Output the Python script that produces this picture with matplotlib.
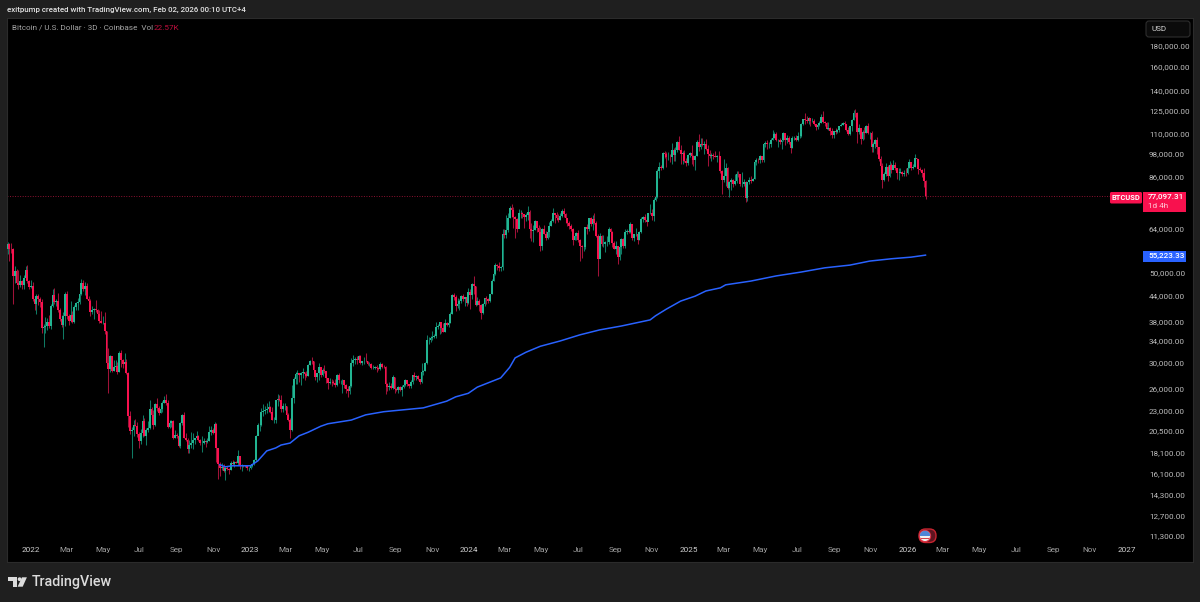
import numpy as np
import pandas as pd
import matplotlib
matplotlib.use("Agg")
import matplotlib.pyplot as plt
from matplotlib.patches import Rectangle, FancyBboxPatch, Circle, Polygon, Wedge
from matplotlib.ticker import NullLocator

FIRST_CANDLE = "2021-11-23"
FIRST_OPEN_K = 57.3
CLOSE_K = [
58.9,57.3,57.2,49.2,50.6,47.2,46.7,47.6,46.7,48.6,
50.8,47.6,46.2,46.4,43.1,41.9,43.9,43.1,42.4,36.5,
36.7,37.1,37.9,36.9,41.5,44.1,42.4,42.6,40.5,38.4,
37.3,39.2,44.4,39.1,38.0,39.4,37.8,41.1,42.2,42.4,
44.3,47.1,45.5,46.4,43.2,42.7,40.1,40.5,40.8,40.5,
39.5,38.1,37.6,37.7,36.0,30.1,29.0,31.3,28.7,29.4,
29.6,28.6,31.8,30.5,29.9,30.2,28.4,22.2,20.4,20.6,
21.1,21.0,20.1,19.3,20.2,21.6,19.9,20.6,20.8,23.2,
22.4,21.2,23.8,23.3,22.6,23.2,23.9,24.4,23.9,20.9,
21.4,21.6,19.6,20.0,19.9,18.8,21.4,22.4,19.7,19.4,
18.5,18.9,19.1,19.4,19.6,19.9,19.4,19.1,19.1,19.3,
19.2,19.3,20.3,20.6,20.2,21.3,18.6,17.0,16.6,16.7,
16.3,16.6,16.5,16.4,17.1,17.0,17.2,17.1,17.8,16.8,
16.9,16.8,16.8,16.6,16.6,16.8,16.95,17.4,19.9,21.1,
21.1,22.7,22.9,23.0,23.1,23.4,22.8,21.8,21.8,24.3,
24.5,24.4,23.2,23.5,23.5,22.4,21.7,20.6,24.7,27.4,
28.2,28.3,28.0,28.4,28.5,28.2,27.9,29.7,30.4,30.3,
28.8,27.8,28.3,29.3,28.1,28.8,28.7,27.6,26.8,27.0,
26.9,26.8,26.5,28.1,27.2,27.2,27.2,26.5,25.9,25.6,
26.3,30.0,30.5,30.7,30.5,31.2,30.0,30.3,30.4,30.3,
29.9,29.9,29.2,29.2,29.3,29.2,29.0,29.8,29.4,29.3,
26.6,26.2,26.4,26.0,27.7,25.9,25.8,26.2,25.8,26.2,
26.5,27.2,26.6,26.3,27.0,28.0,27.8,27.9,27.4,26.9,
28.5,28.7,30.0,34.1,34.1,34.6,34.7,35.0,36.7,37.0,
37.9,36.6,35.8,37.7,37.2,37.7,39.5,44.0,43.7,41.5,
41.9,42.7,43.9,43.0,43.5,42.1,44.9,44.2,47.0,46.4,
41.7,42.7,41.6,39.9,41.8,43.3,43.1,42.6,44.3,47.7,
49.7,52.1,51.8,51.3,51.7,62.4,62.0,63.8,68.3,72.1,
71.4,68.4,67.8,64.0,69.9,70.0,69.7,68.5,69.4,70.6,
63.9,63.4,63.8,66.8,64.5,63.1,58.3,64.0,62.3,60.8,
62.9,65.2,66.9,70.0,69.3,68.3,67.5,68.8,70.8,69.6,
68.2,66.2,65.2,64.1,60.3,61.6,62.7,60.2,58.1,57.7,
57.9,64.7,64.0,68.2,65.8,67.9,66.2,61.4,53.9,61.7,
58.7,58.7,59.5,59.5,64.1,62.9,59.0,57.3,58.0,54.8,
57.7,60.5,58.2,62.9,63.4,63.1,65.9,60.8,62.1,62.2,
60.3,62.8,67.6,68.4,67.4,66.6,69.9,70.2,68.8,75.6,
76.7,88.6,91.1,90.5,98.4,97.7,96.0,96.4,95.9,99.9,
97.4,100.0,104.5,100.2,97.7,98.6,94.1,92.8,97.0,98.3,
96.9,94.5,96.5,104.5,102.0,103.7,102.6,103.7,100.6,98.0,
96.5,97.4,96.6,96.1,96.6,96.5,88.7,84.3,86.2,90.6,
80.7,83.7,84.3,82.7,84.1,87.3,87.2,82.4,82.5,83.5,
76.3,83.4,84.5,84.0,85.1,93.7,94.6,94.3,96.5,94.7,
103.2,104.0,103.4,103.5,106.0,107.3,109.4,105.6,105.7,104.7,
105.7,110.0,106.0,107.0,104.6,100.9,107.1,107.3,105.7,108.0,
108.2,116.0,119.0,118.7,117.9,119.9,117.6,118.0,115.7,114.2,
114.9,116.4,120.2,117.4,116.2,112.5,113.5,111.2,108.8,111.2,
110.7,112.1,114.3,115.3,116.8,116.0,112.0,109.7,114.4,118.6,
123.5,123.3,110.8,113.0,106.4,110.5,110.0,114.5,110.0,110.0,
101.5,103.3,105.9,101.5,95.2,91.5,84.5,87.3,90.9,86.3,
92.0,89.3,92.0,90.3,87.8,88.0,88.5,87.4,87.9,87.6,
90.5,93.7,90.5,91.0,95.5,95.1,90.0,89.5,88.0,84.0,77.097,
]
HIGH_K = [
59.4,59.2,59.2,57.5,51.9,51.2,50.8,49.5,48.0,49.3,
51.8,52.1,48.1,47.9,47.5,43.1,44.3,44.4,43.5,43.0,
37.5,38.9,38.7,39.3,41.9,45.5,45.8,43.0,44.7,40.9,
39.4,40.0,44.9,45.0,39.7,42.5,40.2,41.7,42.4,43.3,
45.1,48.2,48.1,47.4,47.2,43.9,43.0,41.5,40.9,42.9,
40.8,40.6,40.3,39.2,40.0,36.0,32.7,31.4,31.3,30.5,
30.6,30.2,32.2,32.4,30.7,31.7,30.7,28.6,22.9,20.9,
21.7,21.9,21.5,20.3,20.7,22.4,22.0,20.8,21.6,24.3,
23.4,23.0,24.0,24.7,23.5,23.4,24.2,24.9,25.2,24.4,
21.8,21.8,21.8,20.6,20.2,20.2,21.5,22.5,22.8,20.2,
19.7,19.4,20.3,20.2,19.7,20.4,20.0,19.5,19.9,19.7,
19.4,19.6,21.0,21.0,20.8,21.5,21.4,18.6,17.2,17.1,
17.0,16.7,16.8,16.6,17.3,17.4,17.3,17.3,18.4,17.8,
17.0,16.9,16.9,16.9,16.7,16.9,17.0,17.5,20.0,21.4,
21.6,23.3,23.8,23.5,24.0,24.2,23.5,23.4,22.1,24.4,
25.2,25.1,25.0,23.9,24.0,23.5,22.6,22.0,26.5,27.8,
28.5,28.8,28.4,28.6,29.2,28.5,28.7,29.8,30.5,31.0,
30.3,28.9,28.4,30.0,29.4,29.2,29.7,28.7,27.6,27.6,
27.5,27.2,27.5,28.2,28.4,27.3,27.4,27.3,26.6,26.4,
26.8,30.8,31.4,31.0,31.3,31.4,31.5,30.4,31.0,31.8,
30.4,30.2,30.0,29.7,29.5,29.7,29.4,30.2,30.0,29.7,
29.5,26.8,26.9,26.8,28.1,27.8,26.1,26.4,26.4,26.5,
26.9,27.5,27.2,26.7,27.3,28.0,28.6,28.1,28.0,27.5,
30.0,28.9,30.2,35.2,34.8,34.9,35.9,35.4,37.9,37.5,
37.9,37.9,37.6,38.4,37.9,38.4,40.0,44.4,44.7,44.0,
43.4,43.0,44.2,44.4,43.7,43.8,45.9,45.5,47.2,49.0,
46.5,43.6,43.0,41.9,42.2,43.3,43.8,43.4,44.4,48.2,
50.4,52.8,52.4,53.0,51.9,64.0,63.9,69.2,70.0,72.8,
73.8,72.4,68.9,68.2,71.5,71.4,70.3,69.3,69.9,72.8,
71.2,66.3,65.5,67.2,67.1,65.3,64.7,64.5,65.5,63.3,
63.4,66.7,67.7,71.9,70.2,70.6,69.5,70.2,71.7,71.9,
70.2,68.3,66.9,65.7,64.5,62.4,62.9,63.8,60.4,58.5,
59.5,64.8,66.0,68.3,68.4,69.4,70.0,66.8,62.1,62.7,
61.8,61.8,59.9,61.4,64.9,64.5,63.2,59.9,59.8,58.3,
58.0,60.7,60.7,63.9,64.1,64.8,66.5,66.0,62.4,64.4,
62.5,63.4,68.4,68.9,69.5,68.8,70.2,73.6,71.6,76.4,
77.0,90.0,93.3,91.9,99.0,99.6,98.9,98.7,98.0,104.0,
101.0,102.0,105.2,108.3,102.8,99.4,99.9,95.7,97.9,99.0,
102.7,97.3,97.3,105.9,109.4,107.0,107.0,105.0,106.4,102.7,
100.1,98.5,98.5,99.4,97.0,99.5,96.7,89.3,95.0,92.8,
91.0,84.0,85.2,85.0,87.4,88.7,88.8,87.5,88.5,84.7,
83.8,83.6,86.0,86.4,85.5,94.6,95.7,95.6,97.4,96.2,
104.0,105.0,106.0,104.6,107.0,112.0,110.5,110.8,106.3,106.8,
105.9,110.5,110.4,108.9,108.0,106.5,108.2,108.4,108.8,110.5,
109.7,116.8,119.5,123.2,120.9,120.2,120.1,120.0,119.3,116.0,
115.7,117.8,122.3,124.5,118.0,116.9,117.4,113.7,113.5,111.6,
113.4,112.9,114.8,116.8,117.3,118.0,116.0,114.0,114.5,119.0,
125.7,126.2,123.8,115.9,113.5,111.7,114.0,115.5,116.3,111.0,
111.2,104.5,106.6,107.5,99.8,96.6,93.0,88.5,93.0,91.9,
94.1,92.7,94.5,93.6,90.6,90.4,90.5,89.0,89.5,90.3,
91.0,94.8,93.5,92.4,97.9,95.8,95.2,91.0,89.8,90.5,84.5,
]
LOW_K = [
55.7,53.5,55.9,42.0,47.1,46.9,45.7,46.0,45.5,45.6,
48.0,47.3,45.7,45.8,42.5,40.6,39.7,41.7,41.2,35.5,
32.9,35.5,36.1,36.6,36.3,41.1,42.0,41.5,40.1,38.0,
36.8,34.3,37.0,38.6,37.2,37.9,37.6,37.6,40.5,40.5,
42.0,44.1,45.2,44.2,43.0,41.9,39.2,39.6,38.6,40.0,
39.0,37.7,37.6,37.4,35.3,29.8,25.4,28.5,28.6,28.7,
28.7,28.2,28.5,29.3,29.2,29.3,28.2,20.9,20.1,17.6,
19.9,21.0,19.8,18.6,19.0,19.8,19.9,18.9,20.3,20.7,
22.0,20.7,21.0,22.9,22.4,22.6,22.7,23.9,23.7,20.8,
20.8,20.9,19.5,19.6,19.6,18.7,18.6,21.1,19.6,19.3,
18.1,18.1,18.6,18.5,19.0,19.5,19.3,18.9,18.2,19.0,
18.7,19.1,19.3,20.0,20.1,20.0,17.2,15.6,15.9,16.4,
16.2,15.5,16.4,16.0,16.4,16.9,16.7,17.1,16.9,16.5,
16.3,16.7,16.7,16.4,16.3,16.5,16.7,16.9,17.3,20.0,
20.4,21.0,22.3,22.5,22.6,22.8,22.6,21.7,21.4,21.4,
23.6,24.2,22.8,22.8,23.0,22.0,21.6,19.6,20.4,24.0,
26.6,26.6,27.0,26.5,27.6,27.2,27.8,27.9,29.7,29.9,
28.7,27.2,27.0,27.2,27.7,27.9,28.4,26.8,25.9,26.6,
26.4,26.6,26.2,26.3,26.8,26.6,25.4,26.1,25.4,24.8,
25.2,26.2,29.5,29.9,29.9,30.2,29.9,29.7,29.9,30.2,
29.7,29.5,29.0,29.0,29.0,28.6,28.9,28.9,29.2,29.2,
25.2,25.7,25.8,25.9,25.9,25.4,25.7,25.3,25.6,24.9,
26.1,26.4,26.4,26.0,26.0,26.7,27.2,27.3,27.2,26.6,
26.8,28.1,28.7,29.9,33.4,33.9,34.1,34.6,34.5,36.4,
35.4,35.5,35.7,35.7,36.9,36.8,37.6,39.5,42.8,40.2,
40.9,40.6,42.1,42.6,41.4,41.5,42.0,40.8,43.2,44.3,
41.5,41.7,40.3,38.5,39.5,41.4,41.9,42.2,42.3,44.3,
47.7,49.3,50.7,50.5,50.5,50.9,60.8,60.8,62.8,68.0,
68.6,64.5,60.8,62.9,64.5,68.2,68.2,64.5,67.0,67.5,
60.7,59.7,59.6,63.5,62.8,62.4,56.5,56.9,62.2,60.2,
60.6,61.1,65.1,66.7,66.2,67.3,66.7,67.3,68.5,68.4,
66.1,65.1,64.1,63.4,58.5,60.3,60.0,59.6,53.5,54.3,
56.6,57.3,62.4,63.3,65.2,63.5,65.9,61.2,49.0,54.6,
58.0,57.7,56.1,58.0,58.8,62.8,57.9,57.2,55.6,52.6,
53.8,55.5,57.5,57.6,62.3,62.7,62.7,60.3,59.9,61.7,
58.9,60.1,62.6,66.7,66.6,65.2,66.8,69.7,67.5,66.8,
75.0,76.3,85.2,89.3,89.9,95.8,90.7,94.6,93.6,92.3,
94.1,94.2,98.9,99.9,92.2,92.4,93.4,91.3,91.9,96.0,
92.5,91.2,89.2,96.5,99.5,100.5,102.5,97.8,100.2,91.2,
95.7,94.1,94.9,95.9,93.4,95.0,87.9,78.2,83.7,81.5,
80.1,76.6,79.9,81.1,82.0,83.2,85.9,81.6,81.2,81.7,
74.4,74.8,82.7,83.1,83.9,85.0,91.8,92.9,92.9,93.3,
93.3,101.5,100.8,101.3,102.0,105.8,106.8,105.3,102.0,103.7,
100.4,105.1,102.7,104.3,103.4,98.2,100.9,106.1,105.3,105.1,
107.3,107.5,115.2,115.7,116.8,116.1,114.7,117.0,115.0,112.0,
112.7,114.3,116.5,116.8,114.7,112.4,111.7,108.7,107.3,107.3,
109.3,110.0,110.8,114.3,114.9,115.4,111.5,108.6,109.1,111.6,
118.5,120.6,104.0,109.7,103.5,106.1,106.7,110.0,109.7,106.3,
99.0,98.9,101.4,98.0,94.0,88.6,80.6,84.0,86.3,83.8,
86.0,87.7,89.6,89.3,85.1,84.5,87.6,86.4,86.6,86.6,
87.2,90.4,89.3,90.0,90.8,94.6,87.2,88.6,86.0,81.0,75.7,
]
MA_CANDLE = [118,121,125,129,135,139,144,149,152,157,162,167,174,178,191,199,209,231,244,249,
             256,261,274,279,282,288,296,307,318,329,341,357,360,366,374,382,388,396,399,413,
             427,441,454,468,479,491,502,510]
MA_K = [16.9,16.7,16.8,16.8,16.8,17.26,18.27,18.58,18.89,19.1,19.9,20.3,21.0,21.3,21.75,22.4,22.8,23.3,24.2,24.8,
        25.3,26.2,27.6,29.3,30.9,31.9,33.0,34.0,35.2,36.2,37.0,38.3,39.2,40.7,42.6,43.8,45.1,45.9,46.7,47.7,
        49.1,50.2,51.4,52.2,53.4,54.1,54.6,55.223]
PRICE_TICKS = [180000,160000,140000,125000,110000,98000,86000,64000,56000,50000,44000,38000,34000,
               30000,26000,23000,20500,18100,16100,14300,12700,11300]
TIME_TICK_DATES = pd.date_range("2022-01-01", "2027-01-01", freq="2MS")
LAST_PRICE = 77097.31
MA_LAST = 55223.33

PANEL_BG = "#000000"
FRAME_BG = "#1f1f1f"
UP = "#22b592"; DOWN = "#f8114e"
UP_WICK = "#0f7a64"; DOWN_WICK = "#a01238"
W, H = 1200, 602
PX_PER_CANDLE = 1.8
CANDLE0_PX = 7.5
L, R, T, B = 7, 1193, 18, 562
AX_FS = 5.85

plt.rcParams["font.family"] = "Roboto"
fig = plt.figure(figsize=(W/100, H/100), dpi=100, facecolor=FRAME_BG)
ax = fig.add_axes([L/W, 1-B/H, (R-L)/W, (B-T)/H], facecolor=PANEL_BG)

close = np.array(CLOSE_K)*1000
high = np.array(HIGH_K)*1000
low = np.array(LOW_K)*1000
opn = np.r_[FIRST_OPEN_K*1000, close[:-1]]
idx = np.arange(len(close))
up = close >= opn
ax.set_yscale("log")
ax.vlines(idx[up], low[up], high[up], color=UP_WICK, lw=0.75, zorder=2)
ax.vlines(idx[~up], low[~up], high[~up], color=DOWN_WICK, lw=0.75, zorder=2)
ax.bar(idx[up], (close-opn)[up], bottom=opn[up], width=0.9, color=UP, lw=0, zorder=3)
ax.bar(idx[~up], (opn-close)[~up], bottom=close[~up], width=0.9, color=DOWN, lw=0, zorder=3)
ax.plot(MA_CANDLE, np.array(MA_K)*1000, color="#2962ff", lw=1.1, zorder=4, solid_joinstyle="round")
ax.plot([0, (1110-L)/(R-L)], [LAST_PRICE]*2, transform=ax.get_yaxis_transform(),
        color="#8e1232", lw=0.7, ls=(0, (1, 1.6)), zorder=1)

ax.set_xlim((L-CANDLE0_PX)/PX_PER_CANDLE, (R-CANDLE0_PX)/PX_PER_CANDLE)
ptop = 180000*np.exp((46-T)/177); pbot = 180000*np.exp((46-B)/177)
ax.set_ylim(pbot, ptop)

ax.yaxis.tick_right()
ax.yaxis.set_major_locator(plt.FixedLocator(PRICE_TICKS))
ax.yaxis.set_minor_locator(NullLocator())
ax.set_yticklabels([f"{p:,.2f}" for p in PRICE_TICKS], fontsize=AX_FS, color="#bdbdbd")
ax.tick_params(axis="y", which="both", length=0, pad=-31.7)
pos = (TIME_TICK_DATES - pd.Timestamp(FIRST_CANDLE)).days/3
ax.set_xticks(pos)
ax.set_xticklabels([str(d.year) if d.month == 1 else d.strftime("%b") for d in TIME_TICK_DATES], fontsize=AX_FS, color="#a0a0a0")
for d, lab in zip(TIME_TICK_DATES, ax.get_xticklabels()):
    if d.month == 1:
        lab.set_color("#d0d0d0")
ax.tick_params(axis="x", length=0, pad=-10.5)
for s in ax.spines.values():
    s.set_color("#2b2b2b"); s.set_linewidth(0.8)

# chrome drawn in image pixels
ov = fig.add_axes([0, 0, 1, 1], facecolor="none")
ov.set_xlim(0, W); ov.set_ylim(H, 0); ov.axis("off")

ov.text(7, 9.5, "exitpump created with TradingView.com, Feb 02, 2026 00:10 UTC+4", fontsize=5.7,
        color="#e4e4e4", va="center", ha="left", fontweight="medium")
ov.text(12, 27.5, "Bitcoin / U.S. Dollar · 3D · Coinbase  Vol", fontsize=5.9, color="#a4a4a4", va="center", ha="left")
ov.text(154, 27.5, "22.57K", fontsize=5.9, color="#c0103e", va="center", ha="left")

# USD box
ov.add_patch(FancyBboxPatch((1146, 21), 44, 16, boxstyle="round,pad=0,rounding_size=3",
                            fc="#0b0b0b", ec="#2e2e2e", lw=0.8))
ov.text(1151, 29, "USD", fontsize=AX_FS, color="#d0d0d0", va="center", ha="left")

# price labels
ov.add_patch(FancyBboxPatch((1110, 192), 32, 11.5, boxstyle="round,pad=0,rounding_size=1.5", fc=DOWN, ec="none"))
ov.text(1126, 197.8, "BTCUSD", fontsize=5.4, color="white", va="center", ha="center", fontweight="bold")
ov.add_patch(Rectangle((1143, 192), 43, 20, fc=DOWN, ec="none"))
ov.text(1148, 197.3, f"{LAST_PRICE:,.2f}", fontsize=AX_FS, color="white", va="center", ha="left", fontweight="medium")
ov.text(1148, 206.5, "1d 4h", fontsize=AX_FS, color="#ffc9d6", va="center", ha="left")
ov.add_patch(Rectangle((1143, 250.5), 43, 11.5, fc="#2962ff", ec="none"))
ov.text(1148, 256.3, f"{MA_LAST:,.2f}", fontsize=AX_FS, color="white", va="center", ha="left", fontweight="medium")

# event flag
ov.add_patch(FancyBboxPatch((919, 529), 17, 13.5, boxstyle="round,pad=0,rounding_size=6.5", fc="#5e1420", ec="#c6242f", lw=1.0))
ov.add_patch(Circle((925, 536), 5.6, fc="#f0f0f0", ec="#e03040", lw=0.8))
ov.add_patch(Wedge((925, 536), 5.3, 180, 360, fc="#4f86d8", ec="none"))
ov.add_patch(Rectangle((921, 538), 8, 1.2, fc="#d8404a", ec="none"))

# TradingView logo
logo = "#dcdcdc"
ov.add_patch(Polygon([(8, 577.3), (17.3, 577.3), (17.3, 586.7), (12.7, 586.7), (12.7, 581), (8, 581)], fc=logo, ec="none"))
ov.add_patch(Circle((19.6, 579.2), 1.9, fc=logo, ec="none"))
ov.add_patch(Polygon([(22, 577.3), (26.9, 577.3), (22.7, 586.7), (17.6, 586.7)], fc=logo, ec="none"))
ov.text(32, 582, "TradingView", fontsize=10.3, color=logo, va="center", ha="left", fontweight="medium")

fig.savefig("out.png", dpi=100, facecolor=FRAME_BG)
